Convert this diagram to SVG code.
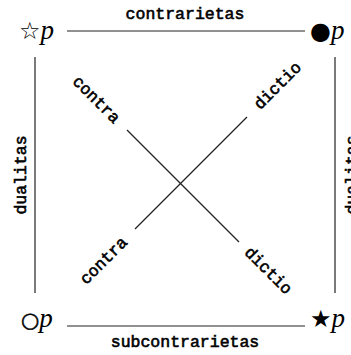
<svg xmlns="http://www.w3.org/2000/svg" width="351" height="355" viewBox="0 0 351 355">
<style>
.lbl{font-family:"Liberation Mono","DejaVu Sans Mono",monospace;font-size:16.5px;fill:#000;stroke:#000;stroke-width:0.6;text-anchor:middle}
.sym{font-family:"DejaVu Sans",sans-serif;font-size:24px;fill:#000}
.sym2{font-family:"DejaVu Sans",sans-serif;font-size:21px;fill:#000;stroke:#000;stroke-width:0.5}
.var{font-family:"Liberation Serif",serif;font-style:italic;font-size:27px;fill:#000}
.edge{stroke:#222;stroke-width:1.2;fill:none}
</style>
<rect width="351" height="355" fill="#fff"/>
<g id="connectors">
<line class="edge" x1="67" y1="31" x2="305" y2="31"/>
<line class="edge" x1="67" y1="326" x2="305" y2="326"/>
<line class="edge" x1="35" y1="57" x2="35" y2="293"/>
<line class="edge" x1="335" y1="57" x2="335" y2="293"/>
<line class="edge" x1="127" y1="130" x2="239" y2="242"/>
<line class="edge" x1="135" y1="229" x2="247" y2="117"/>
<text class="lbl" x="185" y="19">contrarietas</text>
<text class="lbl" x="185" y="347">subcontrarietas</text>
<text class="lbl" transform="translate(26,175) rotate(-90)">dualitas</text>
<text class="lbl" transform="translate(357,175) rotate(-90)">dualitas</text>
<text class="lbl" dominant-baseline="central" transform="translate(96,100) rotate(45)">contra</text>
<text class="lbl" dominant-baseline="central" transform="translate(268,271) rotate(45)">dictio</text>
<text class="lbl" dominant-baseline="central" transform="translate(104,261) rotate(-45)">contra</text>
<text class="lbl" dominant-baseline="central" transform="translate(278,86) rotate(-45)">dictio</text>
</g>
<g id="node-a"><text x="19" y="39"><tspan class="sym">☆</tspan><tspan class="var">p</tspan></text></g>
<g id="node-b"><text x="310" y="39"><tspan class="sym">●</tspan><tspan class="var">p</tspan></text></g>
<g id="node-c"><text x="21" y="327"><tspan class="sym2">○</tspan><tspan class="var">p</tspan></text></g>
<g id="node-d"><text x="310" y="327"><tspan class="sym">★</tspan><tspan class="var">p</tspan></text></g>
</svg>
